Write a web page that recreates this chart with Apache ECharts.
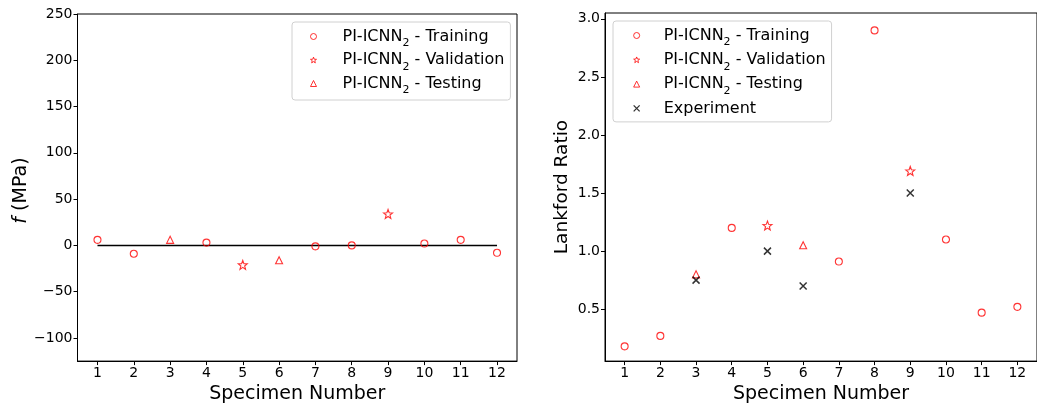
<!DOCTYPE html>
<html><head><meta charset="utf-8">
<script src="https://cdn.jsdelivr.net/npm/echarts@6/dist/echarts.min.js"></script>
<style>html,body{margin:0;padding:0;background:#fff}#c{width:1037px;height:409px}</style>
</head><body><div id="c"></div>
<script>
// ---- data ----
const specimens = [1,2,3,4,5,6,7,8,9,10,11,12];
// left panel: f (MPa)
const fTrainX = [1,2,4,7,8,10,11,12];
const fTrain  = [6,-9,3,-1,0,2,6,-8];
const fValX   = [5,9];
const fVal    = [-21,34];
const fTestX  = [3,6];
const fTest   = [6,-16];
const fZeroX  = [1,12];
const fZero   = [0,0];
const fTicks  = [-100,-50,0,50,100,150,200,250];
// right panel: Lankford ratio
const rTrainX = [1,2,4,7,8,10,11,12];
const rTrain  = [0.18,0.27,1.20,0.91,2.90,1.10,0.47,0.52];
const rValX   = [5,9];
const rVal    = [1.22,1.69];
const rTestX  = [3,6];
const rTest   = [0.80,1.05];
const expX    = [3,5,6,9];
const expR    = [0.75,1.00,0.70,1.50];
const rTicks  = [0.5,1.0,1.5,2.0,2.5,3.0];

const NAME_TR = 'PI-ICNN2 - Training';
const NAME_VA = 'PI-ICNN2 - Validation';
const NAME_TE = 'PI-ICNN2 - Testing';
const NAME_EX = 'Experiment';

const zip = (xs, ys) => xs.map((x, i) => [x, ys[i]]);

function starPath() {
  let p = '';
  for (let i = 0; i < 10; i++) {
    const a = -Math.PI / 2 + i * Math.PI / 5;
    const r = (i % 2) ? 0.42 : 1;
    const x = (r * Math.cos(a) * 10 + 10).toFixed(3);
    const y = (r * Math.sin(a) * 10 + 10).toFixed(3);
    p += (i ? 'L' : 'M') + x + ',' + y;
  }
  return 'path://' + p + 'Z';
}
const STAR = starPath();
const XMARK = 'path://M0,0L10,10M0,10L10,0';

const FONT = 'DejaVu Sans';
const RED = '#ff0000';
const hollow = { color: 'rgba(255,255,255,0)', borderColor: RED, borderWidth: 1.1 };
const legHollow = { color: '#ffffff', borderColor: RED, borderWidth: 1 };
const legX = { color: 'rgba(0,0,0,0)', borderColor: '#000', borderWidth: 1.3 };

const legendFmt = n => n.replace('PI-ICNN2', 'PI-ICNN{sub|2}');
const legendText = {
  fontFamily: FONT, fontSize: 16, color: '#000', lineHeight: 17,
  rich: { sub: { fontFamily: FONT, fontSize: 11, color: '#000', verticalAlign: 'bottom', lineHeight: 12, padding: [0,0,-4,0] } }
};

function xAxisCfg(gridIndex) {
  return {
    type: 'value', gridIndex, min: 0.45, max: 12.55,
    name: 'Specimen Number', nameLocation: 'middle', nameGap: 21,
    nameTextStyle: { fontFamily: FONT, fontSize: 19, color: '#000' },
    axisLine: { show: true, onZero: false, lineStyle: { color: '#000', width: 1 } },
    axisTick: { show: true, length: 4, lineStyle: { color: '#000' }, customValues: specimens },
    axisLabel: { fontFamily: FONT, fontSize: 14, color: '#000', margin: 5, customValues: specimens },
    splitLine: { show: false }
  };
}

const option = {
  animation: false,
  grid: [
    { left: 77.5, top: 14, width: 439.5, height: 349, show: true, borderColor: '#000', borderWidth: 1, containLabel: false },
    { left: 605, top: 13, width: 440.5, height: 349, show: true, borderColor: '#000', borderWidth: 1, containLabel: false }
  ],
  xAxis: [xAxisCfg(0), xAxisCfg(1)],
  yAxis: [
    {
      type: 'value', gridIndex: 0, min: -125, max: 250,
      name: '{i|f} (MPa)', nameLocation: 'middle', nameGap: 40,
      nameTextStyle: { fontFamily: FONT, fontSize: 19, color: '#000', padding: [0, 6, 0, 0],
        rich: { i: { fontFamily: FONT, fontStyle: 'italic', fontSize: 19, color: '#000' } } },
      axisLine: { show: true, onZero: false, lineStyle: { color: '#000', width: 1 } },
      axisTick: { show: true, length: 4, lineStyle: { color: '#000' }, customValues: fTicks },
      axisLabel: { fontFamily: FONT, fontSize: 14, color: '#000', margin: 5, customValues: fTicks,
        formatter: v => String(v).replace('-', '\u2212') },
      splitLine: { show: false }
    },
    {
      type: 'value', gridIndex: 1, min: 0.053, max: 3.05,
      name: 'Lankford Ratio', nameLocation: 'middle', nameGap: 33,
      nameTextStyle: { fontFamily: FONT, fontSize: 18.5, color: '#000' },
      axisLine: { show: true, onZero: false, lineStyle: { color: '#000', width: 1 } },
      axisTick: { show: true, length: 4, lineStyle: { color: '#000' }, customValues: rTicks },
      axisLabel: { fontFamily: FONT, fontSize: 14, color: '#000', margin: 5, customValues: rTicks,
        formatter: v => v.toFixed(1) },
      splitLine: { show: false }
    }
  ],
  legend: [
    {
      data: [
        { name: NAME_TR, itemStyle: legHollow },
        { name: NAME_VA, itemStyle: legHollow },
        { name: NAME_TE, itemStyle: legHollow }
      ],
      orient: 'vertical', left: 292, top: 22,
      padding: [6, 6, 4, 18], itemWidth: 6, itemHeight: 6, itemGap: 2.5,
      backgroundColor: 'rgba(255,255,255,0.8)', borderColor: '#d0d0d0', borderWidth: 1, borderRadius: 3,
      formatter: legendFmt, textStyle: Object.assign({ padding: [0,0,0,21] }, legendText),
      selectedMode: false
    },
    {
      data: [
        { name: NAME_TR, itemStyle: legHollow },
        { name: NAME_VA, itemStyle: legHollow },
        { name: NAME_TE, itemStyle: legHollow },
        { name: NAME_EX, itemStyle: legX }
      ],
      orient: 'vertical', left: 613, top: 21,
      padding: [6, 6, 5, 20], itemWidth: 6, itemHeight: 6, itemGap: 3.3,
      backgroundColor: 'rgba(255,255,255,0.8)', borderColor: '#d0d0d0', borderWidth: 1, borderRadius: 3,
      formatter: legendFmt, textStyle: Object.assign({ padding: [0,0,0,19] }, legendText),
      selectedMode: false
    }
  ],
  series: [
    { type: 'line', xAxisIndex: 0, yAxisIndex: 0, data: zip(fZeroX, fZero), showSymbol: false, symbol: 'none',
      lineStyle: { color: '#000', width: 1.5 }, silent: true, z: 1 },
    { name: NAME_TR, type: 'scatter', xAxisIndex: 0, yAxisIndex: 0, data: zip(fTrainX, fTrain),
      symbol: 'circle', symbolSize: 7, itemStyle: hollow, z: 3 },
    { name: NAME_VA, type: 'scatter', xAxisIndex: 0, yAxisIndex: 0, data: zip(fValX, fVal),
      symbol: STAR, symbolSize: 9, itemStyle: hollow, z: 3 },
    { name: NAME_TE, type: 'scatter', xAxisIndex: 0, yAxisIndex: 0, data: zip(fTestX, fTest),
      symbol: 'triangle', symbolSize: 7, itemStyle: hollow, z: 3 },

    { name: NAME_TR, type: 'scatter', xAxisIndex: 1, yAxisIndex: 1, data: zip(rTrainX, rTrain),
      symbol: 'circle', symbolSize: 7, itemStyle: hollow, z: 3 },
    { name: NAME_VA, type: 'scatter', xAxisIndex: 1, yAxisIndex: 1, data: zip(rValX, rVal),
      symbol: STAR, symbolSize: 9, itemStyle: hollow, z: 3 },
    { name: NAME_TE, type: 'scatter', xAxisIndex: 1, yAxisIndex: 1, data: zip(rTestX, rTest),
      symbol: 'triangle', symbolSize: 7, itemStyle: hollow, z: 3 },
    { name: NAME_EX, type: 'scatter', xAxisIndex: 1, yAxisIndex: 1, data: zip(expX, expR),
      symbol: XMARK, symbolSize: 7, itemStyle: { color: 'rgba(0,0,0,0)', borderColor: '#000', borderWidth: 1.5 }, z: 4 }
  ]
};

const chart = echarts.init(document.getElementById('c'), null, { renderer: 'canvas' });
chart.setOption(option);
</script>
</body></html>
